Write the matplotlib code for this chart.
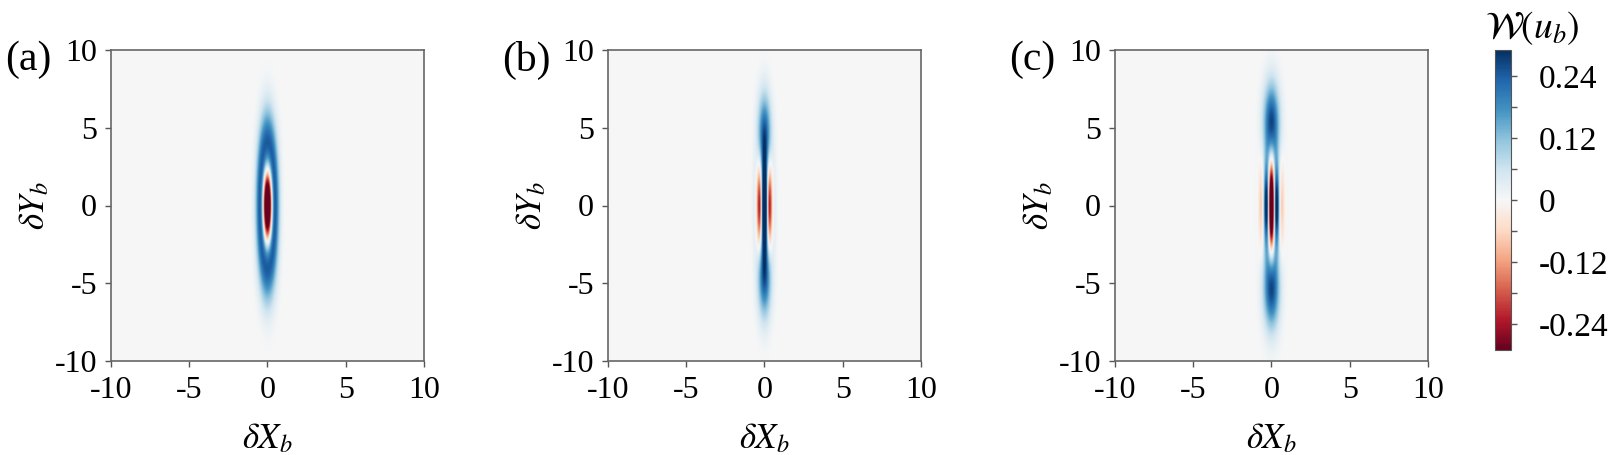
import numpy as np
import matplotlib.pyplot as plt
from matplotlib.colors import Normalize

plt.rcParams["font.family"] = ["Liberation Serif", "DejaVu Serif"]
plt.rcParams["mathtext.fontset"] = "stix"
plt.rcParams["axes.unicode_minus"] = False

# Panel parameters (squeezed cat states along dY_b)
panel_labels = ["(a)", "(b)", "(c)"]
lobe_pos = [0.8, 1.7, 2.12]       # cat amplitude before squeezing
stretch_y = [3.0, 2.6, 2.5]       # stretch along dY_b
squeeze_x = [2.2, 2.4, 2.0]       # squeeze along dX_b
parity = [-1, 1, -1]              # odd / even / odd
w_scale = 1.7

ticks = [-10, -5, 0, 5, 10]
tick_labels = ["-10", "-5", "0", "5", "10"]
cbar_ticks = [0.24, 0.18, 0.12, 0.06, 0.0, -0.06, -0.12, -0.18, -0.24]
cbar_labels = ["0.24", "", "0.12", "", "0", "", "-0.12", "", "-0.24"]
vmin, vmax = -0.29, 0.29

grid = np.linspace(-10, 10, 801)
X, Y = np.meshgrid(grid, grid)


def wigner(p0, ky, kx, par):
    x = X * kx
    p = Y / ky
    norm = 1.0 / (2 * (1 + par * np.exp(-p0 ** 2)))
    w = (np.exp(-x ** 2 - (p - p0) ** 2) + np.exp(-x ** 2 - (p + p0) ** 2)
         + 2 * par * np.exp(-x ** 2 - p ** 2) * np.cos(2 * p0 * x))
    return w_scale * norm * w / np.pi


fig = plt.figure(figsize=(16.15, 4.55), dpi=100)
W, H = 1615, 455
lefts = [111, 608, 1115]
norm = Normalize(vmin=vmin, vmax=vmax)

for i in range(3):
    ax = fig.add_axes([lefts[i] / W, (H - 361) / H, 313 / W, 311 / H])
    im = ax.imshow(wigner(lobe_pos[i], stretch_y[i], squeeze_x[i], parity[i]),
                   cmap="RdBu", norm=norm, origin="lower",
                   extent=[-10, 10, -10, 10], aspect="auto",
                   interpolation="bilinear")
    ax.set_xticks(ticks)
    ax.set_xticklabels(tick_labels)
    ax.set_yticks(ticks)
    ax.set_yticklabels(tick_labels)
    ax.tick_params(direction="out", length=4, width=1, color="#555555",
                   labelsize=23, pad=6)
    ax.tick_params(axis="x", pad=7)
    for sp in ax.spines.values():
        sp.set_color("#666666")
        sp.set_linewidth(1.2)
    ax.set_xlabel(r"$\delta X_b$", fontsize=25, labelpad=12)
    ax.set_ylabel(r"$\delta Y_b$", fontsize=25, labelpad=2)
    fig.text((lefts[i] - 106) / W, 1 - 60 / H, panel_labels[i],
             fontsize=30, ha="left", va="center")

cax = fig.add_axes([1495 / W, (H - 350) / H, 16 / W, 300 / H])
cb = fig.colorbar(im, cax=cax)
cb.set_ticks(cbar_ticks)
cb.set_ticklabels(cbar_labels)
cb.ax.tick_params(length=4, width=1, color="#555555", labelsize=24, pad=16)
cb.outline.set_edgecolor("#555555")
fig.text(1532 / W, 1 - 28 / H, r"$\mathcal{W}(u_b)$", fontsize=27,
         ha="center", va="center")

fig.savefig("out.png", dpi=100)
